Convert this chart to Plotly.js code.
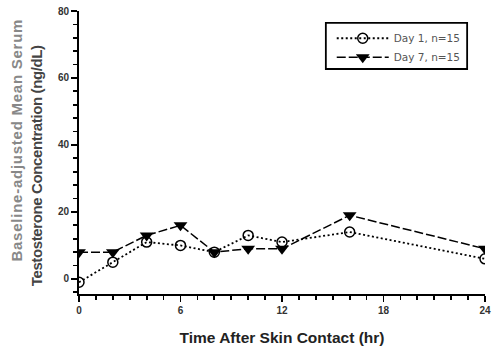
<!DOCTYPE html>
<html><head><meta charset="utf-8">
<script src="https://cdn.plot.ly/plotly-3.0.1.min.js"></script>
<style>html,body{margin:0;padding:0;background:#fff}</style>
</head><body><div id="chart" style="width:492px;height:351px"></div>
<script>
const hours = [0, 2, 4, 6, 8, 10, 12, 16, 24];
const day1 = [-1, 5, 11, 10, 8, 13, 11, 14, 6];
const day7 = [8, 8, 13, 16, 8, 9, 9, 19, 9];
const seriesNames = ["Day 1, n=15", "Day 7, n=15"];
const xRange = [0, 24];
const yRange = [-4.5, 80];

const traces = [
  {x: hours, y: day1, name: seriesNames[0], mode: 'lines+markers', type: 'scatter',
   line: {color: '#000', width: 1.8, dash: '2px,2.5px'},
   marker: {symbol: 'circle-open', size: 10, color: '#000', line: {width: 1.5, color: '#000'}}},
  {x: hours, y: day7, name: seriesNames[1], mode: 'lines+markers', type: 'scatter',
   line: {color: '#000', width: 1.5, dash: '9px,3px'},
   marker: {symbol: 'triangle-down', size: 12, color: '#000'}}
];
const NB = '\u00A0';
const yTitle = '<span style="color:#888;letter-spacing:0.75px">' + NB.repeat(5) + 'Baseline-adjusted Mean Serum</span><br>' +
  '<span style="letter-spacing:-0.38px">Testosterone Concentration (ng/dL)' + NB.repeat(7) + '</span>';
const layout = {
  width: 492, height: 351,
  margin: {l: 79, r: 7, t: 11, b: 57},
  paper_bgcolor: '#fff', plot_bgcolor: '#fff',
  font: {family: 'Liberation Sans, Arial, sans-serif', color: '#000'},
  showlegend: true,
  legend: {x: 0.6225, y: 0.955, xanchor: 'left', yanchor: 'top', bgcolor: 'rgba(0,0,0,0)',
    borderwidth: 0, itemwidth: 52, font: {size: 10.5, color: '#555', family: 'DejaVu Sans, sans-serif'}, tracegroupgap: 0},
  shapes: [{type: 'rect', xref: 'paper', yref: 'paper', x0: 0.608, x1: 0.956, y0: 0.795, y1: 0.958,
    line: {color: '#000', width: 1.8}, fillcolor: 'rgba(0,0,0,0)', layer: 'below'}],
  xaxis: {range: xRange, tickmode: 'linear', tick0: 0, dtick: 6, showgrid: false, zeroline: false,
    showline: true, linecolor: '#000', linewidth: 2, ticks: 'outside', ticklen: 6, tickwidth: 1.8, tickcolor: '#000',
    minor: {dtick: 1, tick0: 0, ticks: 'outside', ticklen: 4, tickwidth: 1.8, tickcolor: '#000', showgrid: false},
    tickfont: {size: 10, color: '#333', weight: 'bold'},
    title: {text: 'Time After Skin Contact (hr)', font: {size: 15.5, weight: 'bold', color: '#222'}, standoff: 17}},
  yaxis: {range: yRange, tickmode: 'linear', tick0: 0, dtick: 20, showgrid: false, zeroline: false,
    showline: true, linecolor: '#000', linewidth: 2, ticks: 'outside', ticklen: 6, tickwidth: 1.8, tickcolor: '#000',
    minor: {dtick: 4, tick0: 0, ticks: 'outside', ticklen: 4, tickwidth: 1.8, tickcolor: '#000', showgrid: false},
    tickfont: {size: 10, color: '#333', weight: 'bold'},
    title: {text: yTitle, font: {size: 15, weight: 'bold', color: '#444'}, standoff: 12}}
};
Plotly.newPlot('chart', traces, layout, {displayModeBar: false, staticPlot: true});
</script></body></html>
